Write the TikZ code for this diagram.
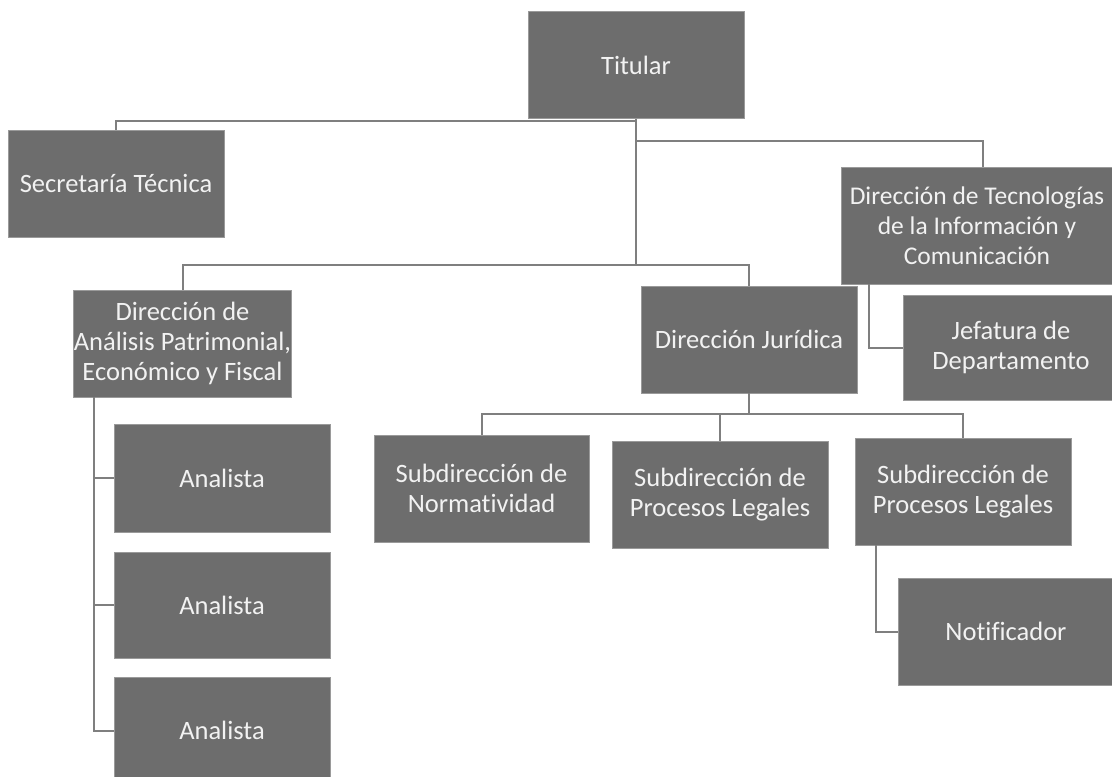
\documentclass[tikz,border=0pt]{standalone}
\usepackage{fontspec}
\setmainfont{Carlito}[Ligatures=NoCommon]
\usetikzlibrary{calc}
\definecolor{boxfill}{HTML}{6D6D6D}
\definecolor{boxedge}{HTML}{9A9A9A}
\definecolor{linecol}{HTML}{7F7F7F}
\definecolor{txtcol}{HTML}{F2F2F2}
\begin{document}
\begin{tikzpicture}[x=1pt,y=-1pt,
  orgbox/.style={rectangle, fill=boxfill, draw=boxedge, line width=0.8pt,
    inner sep=0pt, align=center, text=txtcol,
    font=\fontsize{26.5}{30}\selectfont,
    minimum width=216pt, minimum height=107pt},
  conn/.style={draw=linecol, line width=2pt}]
\clip (0,0) rectangle (1112,777);
\fill[white] (0,0) rectangle (1112,777);
\coordinate (tj) at (636,121);
\coordinate (tk) at (636,265);
\coordinate (tr) at (636,141);
\coordinate (dj2) at (749,414);
% boxes
\node[orgbox] (tit) at (636,65) {Titular};
\node[orgbox] (sec) at (116,183.5) {Secretaría Técnica};
\node[orgbox, minimum width=284pt, minimum height=117pt] (dtic) at (983,225.5) {};
\node[text=txtcol, align=center, inner sep=0pt, font=\fontsize{25.5}{30}\selectfont] (dtictxt) at (977,225.5) {Dirección de Tecnologías\\de la Información y\\Comunicación};
\node[orgbox] (dj) at (749,339.5) {Dirección Jurídica};
\node[orgbox, minimum height=105pt] (jef) at (1011,347.5) {Jefatura de\\Departamento};
\node[orgbox, minimum width=215pt] (dap) at (182.5,343.5) {Dirección de\\Análisis Patrimonial,\\Económico y Fiscal};
\node[orgbox, minimum height=108pt] (an1) at (222,478) {Analista};
\node[orgbox, minimum height=106pt] (an2) at (222,605) {Analista};
\node[orgbox] (an3) at (222,730.5) {Analista};
\node[orgbox, minimum width=215pt] (sub1) at (481.5,488.5) {Subdirección de\\Normatividad};
\node[orgbox] (sub2) at (720,495) {Subdirección de\\Procesos Legales};
\node[orgbox] (sub3) at (963,491.5) {Subdirección de\\Procesos Legales};
\node[orgbox] (not) at (1006,631.5) {Notificador};
% connectors
\draw[conn] (sec.north) |- (tj);
\draw[conn] (tit.south) -- (tk);
\draw[conn] (tr) -| (dtic.north);
\draw[conn] (tk) -| (dap.north);
\draw[conn] (tk) -| (dj.north);
\draw[conn] ($(dtic.south west)+(28,0)$) |- (jef.west);
\draw[conn] ($(dap.south west)+(21,0)$) |- (an1.west);
\draw[conn] ($(dap.south west)+(21,0)$) |- (an2.west);
\draw[conn] ($(dap.south west)+(21,0)$) |- (an3.west);
\draw[conn] (dj.south) -- (dj2);
\draw[conn] (dj2) -| (sub1.north);
\draw[conn] (dj2) -| (sub2.north);
\draw[conn] (dj2) -| (sub3.north);
\draw[conn] ($(sub3.south west)+(21,0)$) |- (not.west);
\end{tikzpicture}
\end{document}
